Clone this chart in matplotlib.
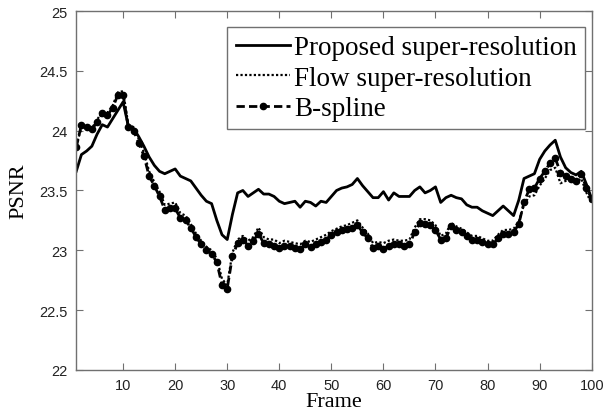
import numpy as np
import matplotlib
matplotlib.use("Agg")
import matplotlib.pyplot as plt

frames = list(range(1, 101))

proposed = [23.66, 23.80, 23.83, 23.87, 23.97, 24.05, 24.03, 24.10, 24.17, 24.24,
            24.04, 24.02, 23.95, 23.87, 23.78, 23.71, 23.66, 23.64, 23.66, 23.68,
            23.62, 23.60, 23.58, 23.52, 23.46, 23.41, 23.39, 23.25, 23.13, 23.09,
            23.30, 23.48, 23.50, 23.45, 23.48, 23.51, 23.47, 23.47, 23.45, 23.41,
            23.39, 23.40, 23.41, 23.36, 23.41, 23.40, 23.37, 23.41, 23.40, 23.45,
            23.50, 23.52, 23.53, 23.55, 23.60, 23.54, 23.49, 23.44, 23.44, 23.49,
            23.42, 23.48, 23.45, 23.45, 23.45, 23.50, 23.53, 23.48, 23.50, 23.53,
            23.40, 23.44, 23.46, 23.44, 23.43, 23.38, 23.36, 23.36, 23.33, 23.31,
            23.29, 23.33, 23.37, 23.33, 23.29, 23.42, 23.60, 23.62, 23.64, 23.76,
            23.83, 23.88, 23.92, 23.78, 23.69, 23.65, 23.63, 23.66, 23.55, 23.43]

flow = [23.88, 24.02, 24.04, 24.02, 24.09, 24.16, 24.15, 24.21, 24.32, 24.33,
        24.05, 24.03, 23.93, 23.82, 23.66, 23.57, 23.49, 23.38, 23.39, 23.40,
        23.31, 23.29, 23.22, 23.14, 23.08, 23.03, 23.00, 22.93, 22.76, 22.71,
        22.98, 23.09, 23.12, 23.08, 23.11, 23.19, 23.11, 23.09, 23.09, 23.06,
        23.08, 23.07, 23.06, 23.05, 23.08, 23.07, 23.09, 23.11, 23.13, 23.16,
        23.18, 23.20, 23.21, 23.23, 23.25, 23.19, 23.14, 23.06, 23.07, 23.06,
        23.08, 23.09, 23.08, 23.08, 23.09, 23.19, 23.26, 23.26, 23.25, 23.21,
        23.12, 23.14, 23.23, 23.20, 23.18, 23.15, 23.12, 23.12, 23.10, 23.08,
        23.08, 23.13, 23.17, 23.17, 23.18, 23.24, 23.38, 23.45, 23.46, 23.54,
        23.60, 23.67, 23.69, 23.56, 23.58, 23.61, 23.57, 23.60, 23.48, 23.39]

bspline = [23.86, 24.05, 24.03, 24.01, 24.07, 24.15, 24.13, 24.19, 24.30, 24.30,
           24.03, 24.00, 23.90, 23.79, 23.62, 23.54, 23.45, 23.34, 23.35, 23.35,
           23.27, 23.25, 23.19, 23.11, 23.05, 23.00, 22.97, 22.90, 22.71, 22.68,
           22.95, 23.06, 23.09, 23.04, 23.08, 23.14, 23.06, 23.05, 23.04, 23.02,
           23.04, 23.04, 23.02, 23.01, 23.05, 23.03, 23.05, 23.07, 23.09, 23.13,
           23.15, 23.17, 23.18, 23.19, 23.21, 23.15, 23.10, 23.02, 23.04, 23.01,
           23.04, 23.05, 23.05, 23.04, 23.05, 23.15, 23.23, 23.22, 23.21, 23.17,
           23.09, 23.10, 23.20, 23.17, 23.15, 23.12, 23.09, 23.09, 23.07, 23.05,
           23.05, 23.10, 23.14, 23.14, 23.15, 23.22, 23.40, 23.51, 23.52, 23.60,
           23.66, 23.73, 23.77, 23.65, 23.62, 23.60, 23.58, 23.64, 23.52, 23.43]

labels = ["Proposed super-resolution", "Flow super-resolution", "B-spline"]
xticks = [10, 20, 30, 40, 50, 60, 70, 80, 90, 100]
yticks = [22, 22.5, 23, 23.5, 24, 24.5, 25]
ytick_labels = ["22", "22.5", "23", "23.5", "24", "24.5", "25"]

fig = plt.figure(figsize=(6.05, 4.14), dpi=100)
ax = fig.add_axes([0.126, 0.104, 0.852, 0.867])

ax.plot(frames, proposed, color="black", lw=2.0, ls="-", label=labels[0])
ax.plot(frames, flow, color="black", lw=1.6, ls=(0, (1, 1)), label=labels[1])
ax.plot(frames, bspline, color="black", lw=2.0, ls=(0, (3, 1.5)), marker="o",
        markersize=4.5, label=labels[2])

ax.set_xlim(1, 100)
ax.set_ylim(22, 25)
ax.set_xticks(xticks)
ax.set_yticks(yticks)
ax.set_yticklabels(ytick_labels)

spine_col = "#707070"
for s in ax.spines.values():
    s.set_color(spine_col)
    s.set_linewidth(1.0)
ax.tick_params(direction="in", top=True, right=True, length=5, width=0.8,
               color=spine_col, labelcolor="#222222", labelsize=10.5, pad=6)
for lab in ax.get_xticklabels() + ax.get_yticklabels():
    lab.set_family("Liberation Sans")

ax.set_xlabel("Frame", family="Liberation Serif", fontsize=16, labelpad=0)
ax.set_ylabel("PSNR", family="Liberation Serif", fontsize=16, labelpad=8)

leg = ax.legend(loc="upper right", bbox_to_anchor=(0.9864, 0.955),
                prop={"family": "Liberation Serif", "size": 19.5},
                fancybox=False, framealpha=1, edgecolor="#707070",
                handlelength=2.0, handletextpad=0.15, borderaxespad=0.0,
                labelspacing=0.2, borderpad=0.3)
leg.get_frame().set_linewidth(1.0)

fig.savefig("out.png", dpi=100)
